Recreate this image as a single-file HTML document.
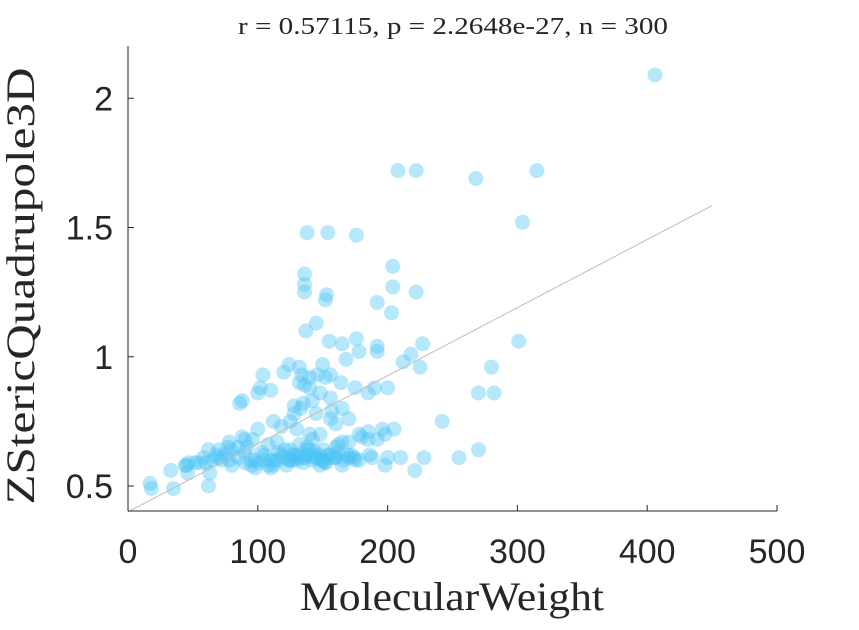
<!DOCTYPE html>
<html><head><meta charset="utf-8"><style>
body{margin:0;background:#fff;}
svg text{fill:#262626;}
</style></head><body>
<svg id="chart" width="859" height="625" xmlns="http://www.w3.org/2000/svg">
<rect width="859" height="625" fill="#fff"/>
<text x="453" y="34" text-anchor="middle" font-family="Liberation Serif, serif" font-size="24" textLength="430" lengthAdjust="spacingAndGlyphs">r = 0.57115, p = 2.2648e-27, n = 300</text>
<g id="points"></g>
<line id="fit" stroke="#bdbdbd" stroke-width="1"/>
<line x1="128" y1="46" x2="128" y2="511" stroke="#262626" stroke-width="1"/>
<line x1="128" y1="511" x2="777" y2="511" stroke="#262626" stroke-width="1"/>
<g id="xticks"></g>
<g id="yticks"></g>
<text x="452" y="610" text-anchor="middle" font-family="Liberation Serif, serif" font-size="40" textLength="304" lengthAdjust="spacingAndGlyphs">MolecularWeight</text>
<text transform="translate(34,286) rotate(-90)" text-anchor="middle" font-family="Liberation Serif, serif" font-size="40" textLength="437" lengthAdjust="spacingAndGlyphs">ZStericQuadrupole3D</text>
</svg>
<script>
const xTicks=[0,100,200,300,400,500];
const yTicks=[0.5,1,1.5,2];
const yTickLabels=["0.5","1","1.5","2"];
const fitX=[0,450];
const fitY=[0.40,1.585];
const mw=[406,208,222,268,315,304,138,154,176,136,136,136,153,152,204,204,222,192,203,137,145,155,165,176,178,192,192,212,218,227,225,301,280,282,270,242,270,255,228,221,210,200,198,205,196,192,180,186,175,170,160,155,150,145,140,135,130,125,120,115,110,105,100,95,90,85,78,75,70,65,60,55,47,45,46,33,35,17,18,62,63,62,72,80,88,90,86,88,100,102,104,110,120,124,132,140,134,146,150,152,156,164,168,128,135,142,148,156,165,185,190,200,175,118,125,130,112,140,148,156,160,165,170,178,185,100,96,108,115,132,138,142,125,150,160,172,103,85,92,70,78,80,95,112,122,135,148,165,178,105,118,128,138,142,188,132,136,140,128,133,145,157,170,116,121,131,147,162,98,108,126,144,152,166,174,90,77,68,58,52,44,110,140,155,162,185,198,124,130,152,160,98,113,127,136,149,158,169,144,151,137];
const zq=[2.09,1.72,1.72,1.69,1.72,1.52,1.48,1.48,1.47,1.32,1.28,1.25,1.24,1.22,1.35,1.27,1.25,1.21,1.17,1.10,1.13,1.06,1.05,1.07,1.02,1.04,1.02,0.98,1.01,1.05,0.96,1.06,0.96,0.86,0.86,0.75,0.64,0.61,0.61,0.56,0.61,0.61,0.58,0.72,0.72,0.68,0.69,0.62,0.60,0.61,0.61,0.62,0.60,0.61,0.62,0.61,0.60,0.60,0.61,0.60,0.60,0.60,0.59,0.60,0.59,0.61,0.60,0.62,0.61,0.60,0.59,0.59,0.59,0.58,0.55,0.56,0.49,0.51,0.49,0.50,0.55,0.64,0.60,0.64,0.69,0.68,0.82,0.83,0.86,0.88,0.93,0.87,0.94,0.97,0.96,0.92,0.93,0.93,0.97,0.92,0.93,0.90,0.99,0.81,0.82,0.83,0.86,0.84,0.80,0.86,0.88,0.88,0.88,0.73,0.75,0.72,0.75,0.70,0.70,0.76,0.74,0.67,0.67,0.70,0.68,0.72,0.68,0.66,0.67,0.66,0.65,0.68,0.64,0.64,0.65,0.62,0.63,0.65,0.65,0.64,0.67,0.58,0.58,0.58,0.58,0.59,0.58,0.58,0.60,0.62,0.62,0.62,0.62,0.60,0.61,0.90,0.89,0.88,0.78,0.80,0.78,0.79,0.76,0.63,0.64,0.61,0.62,0.63,0.57,0.58,0.60,0.61,0.59,0.60,0.61,0.63,0.65,0.62,0.61,0.59,0.58,0.57,0.64,0.62,0.66,0.71,0.70,0.60,0.62,0.59,0.61,0.60,0.60,0.62,0.61,0.60,0.61,0.62,0.63,0.60,0.64];
const X=v=>128+v*1.298, Y=v=>486-(v-0.5)*258.5;
const NS="http://www.w3.org/2000/svg";
const pg=document.getElementById('points');
for(let i=0;i<mw.length;i++){
 const c=document.createElementNS(NS,'circle');
 c.setAttribute('cx',X(mw[i]));c.setAttribute('cy',Y(zq[i]));c.setAttribute('r',7.5);
 c.setAttribute('fill','#4cc4f5');c.setAttribute('fill-opacity','0.4');
 
 
 pg.appendChild(c);
}
const f=document.getElementById('fit');
f.setAttribute('x1',X(fitX[0]));f.setAttribute('y1',Y(fitY[0]));
f.setAttribute('x2',X(fitX[1]));f.setAttribute('y2',Y(fitY[1]));
const xg=document.getElementById('xticks');
xTicks.forEach(t=>{
 const l=document.createElementNS(NS,'line');
 l.setAttribute('x1',X(t));l.setAttribute('x2',X(t));l.setAttribute('y1',511);l.setAttribute('y2',505);l.setAttribute('stroke','#262626');
 
 
 xg.appendChild(l);
 const tx=document.createElementNS(NS,'text');
 tx.setAttribute('x',X(t));tx.setAttribute('y',563);tx.setAttribute('text-anchor','middle');
 tx.setAttribute('font-family','Liberation Sans, sans-serif');tx.setAttribute('font-size','34');
 tx.textContent=t;
 
 
 xg.appendChild(tx);
});
const yg=document.getElementById('yticks');
yTicks.forEach((t,i)=>{
 const l=document.createElementNS(NS,'line');
 l.setAttribute('x1',128);l.setAttribute('x2',134);l.setAttribute('y1',Y(t));l.setAttribute('y2',Y(t));l.setAttribute('stroke','#262626');
 
 
 yg.appendChild(l);
 const tx=document.createElementNS(NS,'text');
 tx.setAttribute('x',113);tx.setAttribute('y',Y(t)+12);tx.setAttribute('text-anchor','end');
 tx.setAttribute('font-family','Liberation Sans, sans-serif');tx.setAttribute('font-size','34');
 tx.textContent=yTickLabels[i];
 
 
 yg.appendChild(tx);
});
</script>
</body></html>
